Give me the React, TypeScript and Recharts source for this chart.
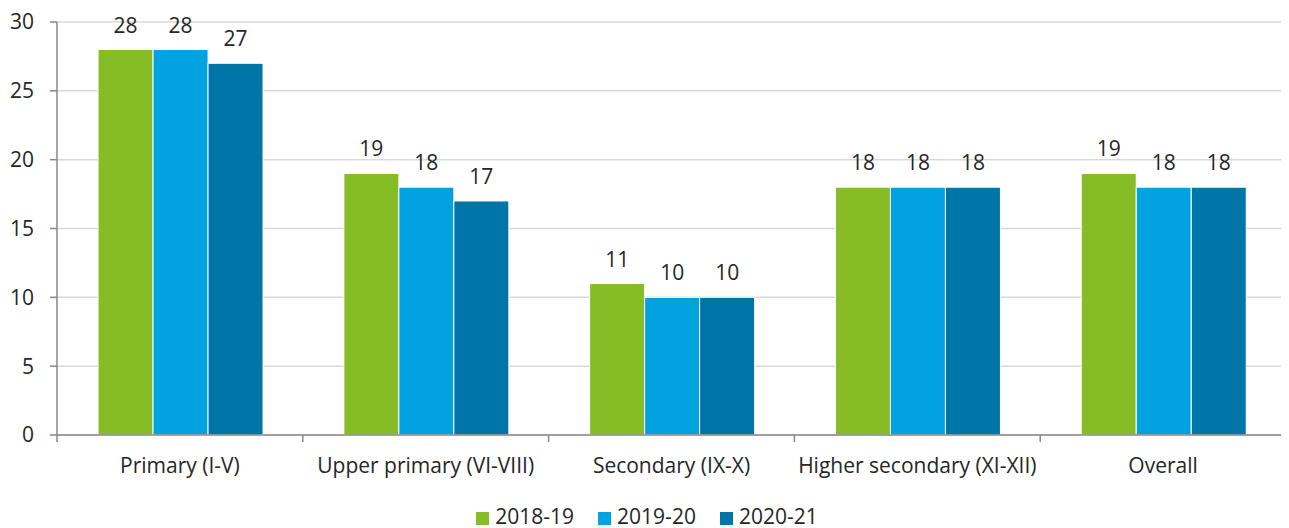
import React from "react";
import { BarChart, Bar, XAxis, YAxis, CartesianGrid, Legend, LabelList } from "recharts";

const categories = ["Primary (I-V)", "Upper primary (VI-VIII)", "Secondary (IX-X)", "Higher secondary (XI-XII)", "Overall"];
const s2018 = [28, 19, 11, 18, 19];
const s2019 = [28, 18, 10, 18, 18];
const s2020 = [27, 17, 10, 18, 18];
const yTicks = [0, 5, 10, 15, 20, 25, 30];

const data = categories.map((c, i) => ({ name: c, a: s2018[i], b: s2019[i], c: s2020[i] }));

const W = 1281;
const H = 520;
const LEFT = 49;
const RIGHT = 3;
const PLOT_W = W - LEFT - RIGHT;
const BAND = PLOT_W / categories.length;
const FONT = "'Open Sans', sans-serif";
const TXT = "#262626";

const XTick = (props: any) => {
  const { x, y, payload, index } = props;
  const left = x - BAND / 2;
  return (
    <g>
      <line x1={left} y1={y} x2={left} y2={y + 7} stroke="#888" strokeWidth={1.5} />
      {index === categories.length - 1 && (
        <line x1={x + BAND / 2} y1={y} x2={x + BAND / 2} y2={y + 7} stroke="#888" strokeWidth={1.5} />
      )}
      <text x={x} y={y + 38} textAnchor="middle" fill={TXT} fontSize={21} fontFamily={FONT}>
        {payload.value}
      </text>
    </g>
  );
};

export default function App() {
  return (
    <BarChart
      width={W}
      height={H}
      data={data}
      margin={{ top: 14, right: RIGHT, left: 0, bottom: 0 }}
      barCategoryGap="16.7%"
      barGap={0}
    >
      <CartesianGrid vertical={false} stroke="#d9d9d9" strokeWidth={1.5} />
      <XAxis
        dataKey="name"
        tickLine={false}
        tickSize={0}
        tickMargin={0}
        axisLine={{ stroke: "#888", strokeWidth: 1.5 }}
        tick={<XTick />}
        height={69}
        interval={0}
      />
      <YAxis
        width={LEFT}
        domain={[0, 30]}
        ticks={yTicks}
        interval={0}
        tickSize={7}
        tickMargin={16}
        tickLine={{ stroke: "#888", strokeWidth: 1.5 }}
        axisLine={{ stroke: "#888", strokeWidth: 1.5 }}
        tick={{ fill: TXT, fontSize: 21, fontFamily: FONT }}
      />
      <Legend
        verticalAlign="bottom"
        align="center"
        iconType="square"
        iconSize={13}
        wrapperStyle={{ fontFamily: FONT, fontSize: 21, color: TXT, bottom: 0, lineHeight: "24px", paddingLeft: 24, boxSizing: "border-box" }}
        formatter={(v: string) => <span style={{ color: TXT, marginLeft: 2, marginRight: 14 }}>{v}</span>}
      />
      <Bar dataKey="a" name="2018-19" fill="#86BC25" stroke="#fff" strokeWidth={1} isAnimationActive={false}>
        <LabelList dataKey="a" position="top" offset={17} fill={TXT} fontSize={21} fontFamily={FONT} />
      </Bar>
      <Bar dataKey="b" name="2019-20" fill="#00A3E0" stroke="#fff" strokeWidth={1} isAnimationActive={false}>
        <LabelList dataKey="b" position="top" offset={17} fill={TXT} fontSize={21} fontFamily={FONT} />
      </Bar>
      <Bar dataKey="c" name="2020-21" fill="#0076A8" stroke="#fff" strokeWidth={1} isAnimationActive={false}>
        <LabelList dataKey="c" position="top" offset={17} fill={TXT} fontSize={21} fontFamily={FONT} />
      </Bar>
    </BarChart>
  );
}
